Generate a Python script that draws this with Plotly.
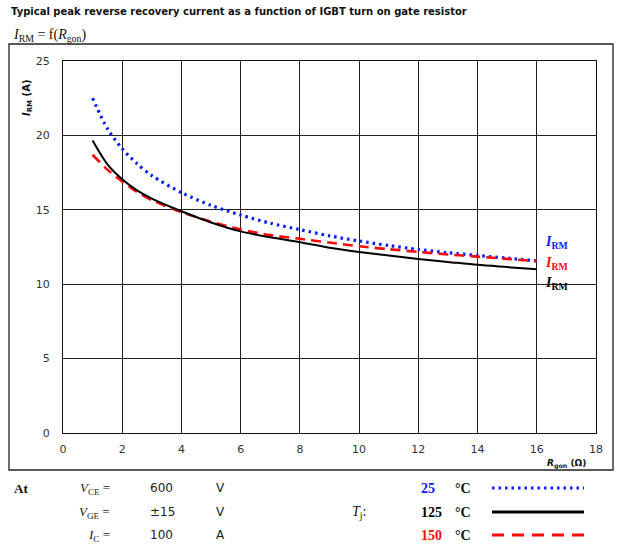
import plotly.graph_objects as go

# Gate resistor R_gon (Ohm)
r_gon = [1, 1.5, 2, 2.5, 3, 4, 5, 6, 7, 8, 9, 10, 11, 12, 13, 14, 15, 16]

# Peak reverse recovery current I_RM (A) per junction temperature
irm_25c = [22.5, 20.45, 19.1, 18.1, 17.3, 16.15, 15.3, 14.65, 14.1, 13.67, 13.25,
           12.9, 12.6, 12.33, 12.12, 11.93, 11.75, 11.57]
irm_125c = [19.65, 18.05, 17.05, 16.3, 15.75, 14.9, 14.15, 13.55, 13.15, 12.82, 12.45,
            12.17, 11.93, 11.7, 11.5, 11.3, 11.15, 11.0]
irm_150c = [18.7, 17.7, 16.9, 16.2, 15.65, 14.85, 14.2, 13.68, 13.3, 13.05, 12.8,
            12.55, 12.35, 12.17, 12.0, 11.85, 11.7, 11.55]

x_ticks = [0, 2, 4, 6, 8, 10, 12, 14, 16, 18]
y_ticks = [0, 5, 10, 15, 20, 25]

W, H = 621, 546
L, R, T, B = 63, 25, 61, 113
PW, PH = W - L - R, H - T - B

BLUE = "#0a1cff"
RED = "#ff0a0a"
BLACK = "#000000"
SANS = "DejaVu Sans"
SERIF = "Liberation Serif"


def px(x):
    return (x - L) / PW


def py(y):
    return (H - B - y) / PH


fig = go.Figure()
fig.add_trace(go.Scatter(x=r_gon, y=irm_25c, mode="lines",
                         line=dict(color=BLUE, width=3.2, dash="2.5px,4px",
                                   shape="spline", smoothing=0.8),
                         showlegend=False))
fig.add_trace(go.Scatter(x=r_gon, y=irm_150c, mode="lines",
                         line=dict(color=RED, width=2.6, dash="10px,6px",
                                   shape="spline", smoothing=0.8),
                         showlegend=False))
fig.add_trace(go.Scatter(x=r_gon, y=irm_125c, mode="lines",
                         line=dict(color=BLACK, width=2, shape="spline", smoothing=0.8),
                         showlegend=False))

ann = []


def text(x, y, s, size=11, family=SANS, color="#222", xanchor="left", **kw):
    ann.append(dict(x=px(x), y=py(y), xref="paper", yref="paper", text=s,
                    showarrow=False, xanchor=xanchor, yanchor="middle",
                    font=dict(family=family, size=size, color=color), **kw))


# headings
text(9, 12, "<b>Typical peak reverse recovery current as a function of IGBT turn on gate resistor</b>",
     size=10, color="#111")
text(11, 35, "<i>I</i><sub>RM</sub> = f(<i>R</i><sub>gon</sub>)", size=14, family=SERIF, color="#111")

# axis titles
text(27, 98, "<b><i>I</i><sub>RM</sub> (A)</b>", size=10, family=SANS, color="#111",
     xanchor="center", textangle=-90)
text(566, 464, "<b><i>R</i><sub>gon</sub> (Ω)</b>", size=9, family=SANS, color="#111",
     xanchor="center")

# curve labels
text(543, 242, "<b><i>I</i><sub>RM</sub></b>", size=14, family=SERIF, color=BLUE)
text(543, 263, "<b><i>I</i><sub>RM</sub></b>", size=14, family=SERIF, color=RED)
text(543, 283, "<b><i>I</i><sub>RM</sub></b>", size=14, family=SERIF, color=BLACK)

# test conditions
rows = [488, 512, 535]
text(12, rows[0], "<b>At</b>", size=13, family=SERIF, color="#111")
text(112, rows[0], "<i>V</i><sub>CE</sub> =", size=13, family=SERIF, xanchor="right")
text(112, rows[1], "<i>V</i><sub>GE</sub> =", size=13, family=SERIF, xanchor="right")
text(112, rows[2], "<i>I</i><sub>C</sub> =", size=13, family=SERIF, xanchor="right")
text(148, rows[0], "600", size=12)
text(148, rows[1], "±15", size=12)
text(148, rows[2], "100", size=12)
text(214, rows[0], "V", size=12)
text(214, rows[1], "V", size=12)
text(214, rows[2], "A", size=12)
text(350, rows[1], "<i>T</i><sub>j</sub>:", size=14, family=SERIF, color="#111")
text(419, rows[0], "<b>25</b>", size=14, family=SERIF, color=BLUE)
text(419, rows[1], "<b>125</b>", size=14, family=SERIF, color=BLACK)
text(419, rows[2], "<b>150</b>", size=14, family=SERIF, color=RED)
for yy in rows:
    text(453, yy, "<b>°C</b>", size=14, family=SERIF, color="#111")

shapes = [
    dict(type="rect", xref="paper", yref="paper", x0=px(9), x1=px(613),
         y0=py(44), y1=py(470), line=dict(color="#222", width=1.3), layer="below"),
    dict(type="line", xref="paper", yref="paper", x0=px(492), x1=px(584),
         y0=py(rows[0]), y1=py(rows[0]), line=dict(color=BLUE, width=3, dash="2.5px,4px")),
    dict(type="line", xref="paper", yref="paper", x0=px(492), x1=px(584),
         y0=py(rows[1]), y1=py(rows[1]), line=dict(color=BLACK, width=3)),
    dict(type="line", xref="paper", yref="paper", x0=px(492), x1=px(584),
         y0=py(rows[2]), y1=py(rows[2]), line=dict(color=RED, width=3, dash="12px,8px")),
]

axis_common = dict(showline=True, mirror=True, linecolor="#111", linewidth=1.3,
                   showgrid=True, gridcolor="#222", gridwidth=1, zeroline=False,
                   ticks="", tickfont=dict(family=SANS, size=11, color="#333"))

fig.update_layout(
    width=W, height=H, margin=dict(l=L, r=R, t=T, b=B),
    paper_bgcolor="white", plot_bgcolor="white",
    xaxis=dict(range=[0, 18], tickvals=x_ticks, ticklabelstandoff=6, **axis_common),
    yaxis=dict(range=[0, 25], tickvals=y_ticks, ticklabelstandoff=10, **axis_common),
    annotations=ann, shapes=shapes,
)

fig.write_html("out.html")
